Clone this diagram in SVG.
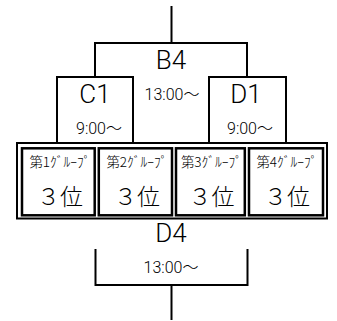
<svg xmlns="http://www.w3.org/2000/svg" width="337" height="321" viewBox="0 0 337 321">
<style>
.ln{fill:none;stroke:#000;stroke-width:2;stroke-linecap:square}
.box{fill:#fff;stroke:#000;stroke-width:2}
.gb{fill:#fff;stroke:#000;stroke-width:2.5}
.t{font-family:Roboto,"Liberation Sans","Noto Sans CJK JP",sans-serif;font-weight:300;fill:#000;text-anchor:middle}
.big{font-size:26px}
.tm{font-size:16px}
.gl{font-family:"Noto Sans CJK JP",sans-serif;font-weight:300;font-size:13.5px;fill:#000;text-anchor:middle}
.gr{font-family:"Noto Sans CJK JP",sans-serif;font-weight:300;font-size:23px;fill:#000;text-anchor:middle}
</style>
<rect width="337" height="321" fill="#fff"/>
<g id="connectors">
<path class="ln" d="M171.5 7V43"/>
<path class="ln" d="M95 77V43H247V77"/>
<path class="ln" d="M95.5 250V285H247.5V250"/>
<path class="ln" d="M171.5 285V319"/>
</g>
<g id="B4">
<text class="t big" x="171" y="69">B4</text>
<text class="t tm" x="172" y="100">13:00～</text>
</g>
<g id="C1">
<rect class="box" x="57" y="77" width="76" height="66"/>
<text class="t big" x="95" y="102.5">C1</text>
<text class="t tm" x="99" y="134">9:00～</text>
</g>
<g id="D1">
<rect class="box" x="209" y="77" width="77" height="66"/>
<text class="t big" x="246" y="102.5">D1</text>
<text class="t tm" x="250" y="134">9:00～</text>
</g>
<g id="groups">
<rect class="box" x="17" y="143" width="310" height="75.5"/>
</g>
<g id="g1">
<rect class="gb" x="22" y="148.3" width="72.7" height="67"/>
<text class="gl" x="60" y="167">第1ｸﾞﾙｰﾌﾟ</text>
<text class="gr" x="60" y="205">３位</text>
</g>
<g id="g2">
<rect class="gb" x="98.8" y="148.3" width="73.2" height="67"/>
<text class="gl" x="137" y="167">第2ｸﾞﾙｰﾌﾟ</text>
<text class="gr" x="137" y="205">３位</text>
</g>
<g id="g3">
<rect class="gb" x="176" y="148.3" width="68.8" height="67"/>
<text class="gl" x="211.5" y="167">第3ｸﾞﾙｰﾌﾟ</text>
<text class="gr" x="211.5" y="205">３位</text>
</g>
<g id="g4">
<rect class="gb" x="249" y="148.3" width="74" height="67"/>
<text class="gl" x="287" y="167">第4ｸﾞﾙｰﾌﾟ</text>
<text class="gr" x="287" y="205">３位</text>
</g>
<g id="D4">
<text class="t big" x="171" y="241.5">D4</text>
<text class="t tm" x="171" y="272.5">13:00～</text>
</g>
</svg>
